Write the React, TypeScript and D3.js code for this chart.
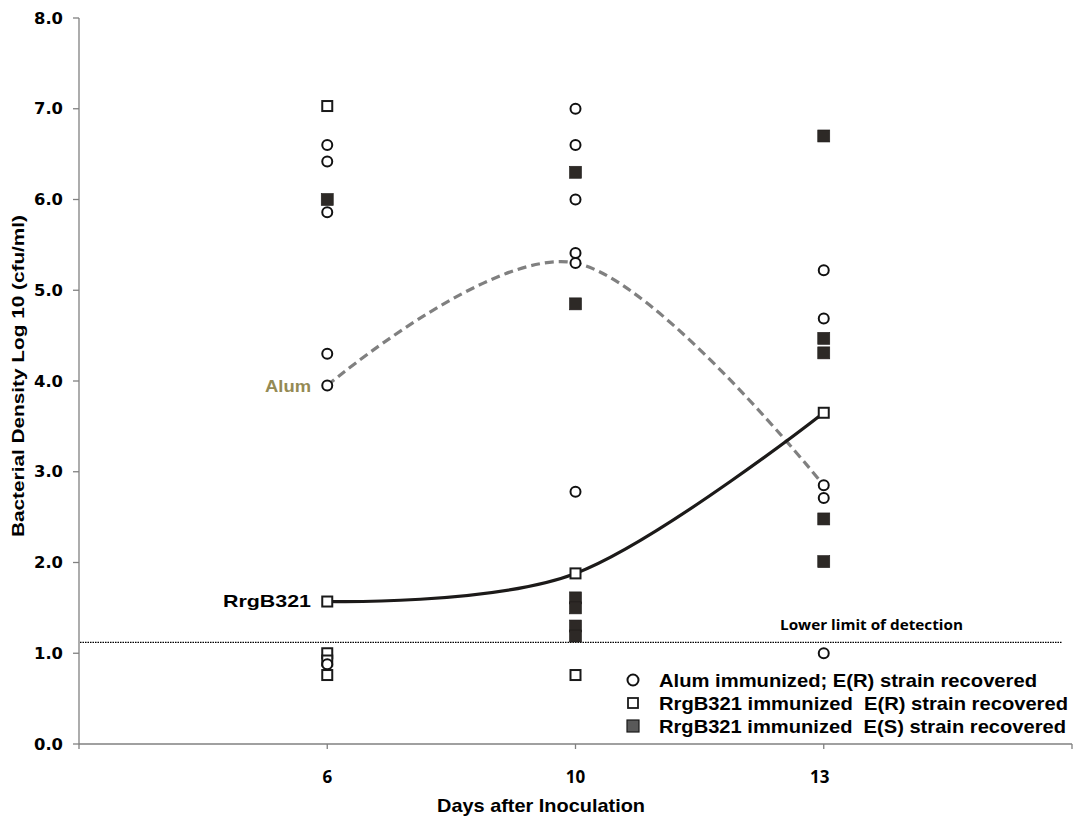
import React from "react";
import * as d3 from "d3";

// ---- Data ----
const dayLabels = ["6", "10", "13"];
const dayPositions = [1, 2, 3];
const yTicks = [0, 1, 2, 3, 4, 5, 6, 7, 8];

// Alum immunized; E(R) strain recovered (open circles)
const alumDay6 = [6.6, 6.42, 5.86, 4.3, 3.95, 0.88];
const alumDay10 = [7.0, 6.6, 6.0, 5.41, 5.3, 2.78];
const alumDay13 = [5.22, 4.69, 2.85, 2.71, 1.0];

// RrgB321 immunized E(R) strain recovered (open squares)
const rOpenDay6 = [7.03, 1.57, 1.0, 0.92, 0.76];
const rOpenDay10 = [1.88, 0.76];
const rOpenDay13 = [3.65];

// RrgB321 immunized E(S) strain recovered (filled squares)
const rFilledDay6 = [6.0];
const rFilledDay10 = [6.3, 4.85, 1.61, 1.5, 1.3, 1.19];
const rFilledDay13 = [6.7, 4.47, 4.31, 2.48, 2.01];

// Trend lines
const alumTrend = [3.95, 5.3, 2.85];
const rrgTrend = [1.57, 1.88, 3.65];

const lowerLimit = 1.12;

const legendLabels = [
  "Alum immunized; E(R) strain recovered",
  "RrgB321 immunized  E(R) strain recovered",
  "RrgB321 immunized  E(S) strain recovered",
];

// ---- Layout ----
const W = 1074;
const H = 821;
const left = 79;
const right = 1072;
const top = 18;
const bottom = 744;

const x = d3.scaleLinear().domain([0, 4]).range([left, right]);
const y = d3.scaleLinear().domain([0, 8]).range([bottom, top]);

const ARIAL = "'Liberation Sans', Arial, sans-serif";
const HEAVY = "'DejaVu Sans', 'Liberation Sans', sans-serif";
const CAL = "'Open Sans', 'Liberation Sans', sans-serif";

function flatten(groups: number[][]) {
  const out: { d: number; v: number }[] = [];
  groups.forEach((g, i) => g.forEach((v) => out.push({ d: dayPositions[i], v })));
  return out;
}

export default function App() {
  const line = d3
    .line<number>()
    .x((_, i) => x(dayPositions[i]))
    .y((v) => y(v))
    .curve(d3.curveCardinal.tension(0));

  const circles = flatten([alumDay6, alumDay10, alumDay13]);
  const openSq = flatten([rOpenDay6, rOpenDay10, rOpenDay13]);
  const filledSq = flatten([rFilledDay6, rFilledDay10, rFilledDay13]);

  const xTickVals = [0, 1, 2, 3, 4];
  const sq = 10;

  return (
    <svg
      width={W}
      height={H}
      style={{ position: "absolute", left: 0, top: 0, background: "#fff" }}
    >
      {/* Y axis */}
      <line x1={left} x2={left} y1={top} y2={bottom} stroke="#808080" strokeWidth={1.3} />
      {yTicks.map((t) => (
        <g key={"yt" + t}>
          <line x1={left - 6} x2={left} y1={y(t)} y2={y(t)} stroke="#808080" strokeWidth={1.3} />
          <text
            x={63}
            y={y(t) + 5.5}
            textAnchor="end"
            fontFamily={HEAVY}
            fontWeight="bold"
            fontSize={15}
            textLength={29}
            lengthAdjust="spacingAndGlyphs"
            fill="#000"
          >
            {t.toFixed(1)}
          </text>
        </g>
      ))}
      {/* X axis */}
      <line x1={left} x2={right} y1={bottom} y2={bottom} stroke="#808080" strokeWidth={1.3} />
      {xTickVals.map((t) => (
        <line key={"xt" + t} x1={x(t)} x2={x(t)} y1={bottom} y2={bottom + 5} stroke="#808080" strokeWidth={1.3} />
      ))}
      {dayPositions.map((p, i) => (
        <text
          key={"xl" + i}
          x={x(p) + (i === 2 ? -4 : 0)}
          y={783}
          textAnchor="middle"
          fontFamily={CAL}
          fontWeight="bold"
          fontSize={17}
          fill="#000"
        >
          {dayLabels[i]}
        </text>
      ))}

      {/* Axis titles */}
      <text
        x={541}
        y={812}
        textAnchor="middle"
        fontFamily={ARIAL}
        fontWeight="bold"
        fontSize={18.5}
        textLength={208}
        lengthAdjust="spacingAndGlyphs"
        fill="#000"
      >
        Days after Inoculation
      </text>
      <text
        transform={`translate(24,${376}) rotate(-90)`}
        textAnchor="middle"
        fontFamily={ARIAL}
        fontWeight="bold"
        fontSize={17}
        textLength={322}
        lengthAdjust="spacingAndGlyphs"
        fill="#000"
      >
        Bacterial Density Log 10 (cfu/ml)
      </text>

      {/* Lower limit of detection */}
      <line
        x1={left + 1}
        x2={1062}
        y1={y(lowerLimit)}
        y2={y(lowerLimit)}
        stroke="#000"
        strokeWidth={1.2}
        strokeDasharray="1.5,1"
      />
      <text
        x={780}
        y={630}
        fontFamily={CAL}
        fontWeight="bold"
        fontSize={14}
        textLength={183}
        lengthAdjust="spacingAndGlyphs"
        fill="#000"
      >
        Lower limit of detection
      </text>

      {/* Trend lines */}
      <path
        d={line(alumTrend) || ""}
        fill="none"
        stroke="#808080"
        strokeWidth={3.2}
        strokeDasharray="9,5"
      />
      <path d={line(rrgTrend) || ""} fill="none" stroke="#1c1a19" strokeWidth={3.2} />

      {/* Points */}
      {filledSq.map((p, i) => (
        <rect
          key={"f" + i}
          x={x(p.d) - 6}
          y={y(p.v) - 6}
          width={12}
          height={12}
          fill="#2d2926"
          stroke="#1e1b19"
          strokeWidth={0.6}
        />
      ))}
      {openSq.map((p, i) => (
        <rect
          key={"o" + i}
          x={x(p.d) - sq / 2}
          y={y(p.v) - sq / 2}
          width={sq}
          height={sq}
          fill="#fff"
          stroke="#1a1a1a"
          strokeWidth={2}
        />
      ))}
      {circles.map((p, i) => (
        <circle key={"c" + i} cx={x(p.d)} cy={y(p.v)} r={5} fill="#fff" stroke="#111" strokeWidth={2} />
      ))}

      {/* Series labels */}
      <text
        x={311}
        y={392}
        textAnchor="end"
        fontFamily={ARIAL}
        fontWeight="bold"
        fontSize={17}
        textLength={46}
        lengthAdjust="spacingAndGlyphs"
        fill="#948a54"
      >
        Alum
      </text>
      <text
        x={311}
        y={607}
        textAnchor="end"
        fontFamily={ARIAL}
        fontWeight="bold"
        fontSize={17}
        textLength={88}
        lengthAdjust="spacingAndGlyphs"
        fill="#000"
      >
        RrgB321
      </text>

      {/* Legend */}
      <g>
        <circle cx={633} cy={680} r={5.5} fill="#fff" stroke="#111" strokeWidth={2} />
        <rect x={628} y={698} width={10} height={10} fill="#fff" stroke="#1a1a1a" strokeWidth={1.8} />
        <rect x={627} y={720} width={12} height={12} fill="#595959" stroke="#1a1a1a" strokeWidth={1.2} />
        {legendLabels.map((lab, i) => (
          <text
            key={"lg" + i}
            x={659}
            y={687 + i * 23}
            fontFamily={ARIAL}
            fontWeight="bold"
            fontSize={19}
            textLength={[378, 409, 407][i]}
            lengthAdjust="spacingAndGlyphs"
            style={{ whiteSpace: "pre" }}
            fill="#000"
          >
            {lab}
          </text>
        ))}
      </g>
    </svg>
  );
}
